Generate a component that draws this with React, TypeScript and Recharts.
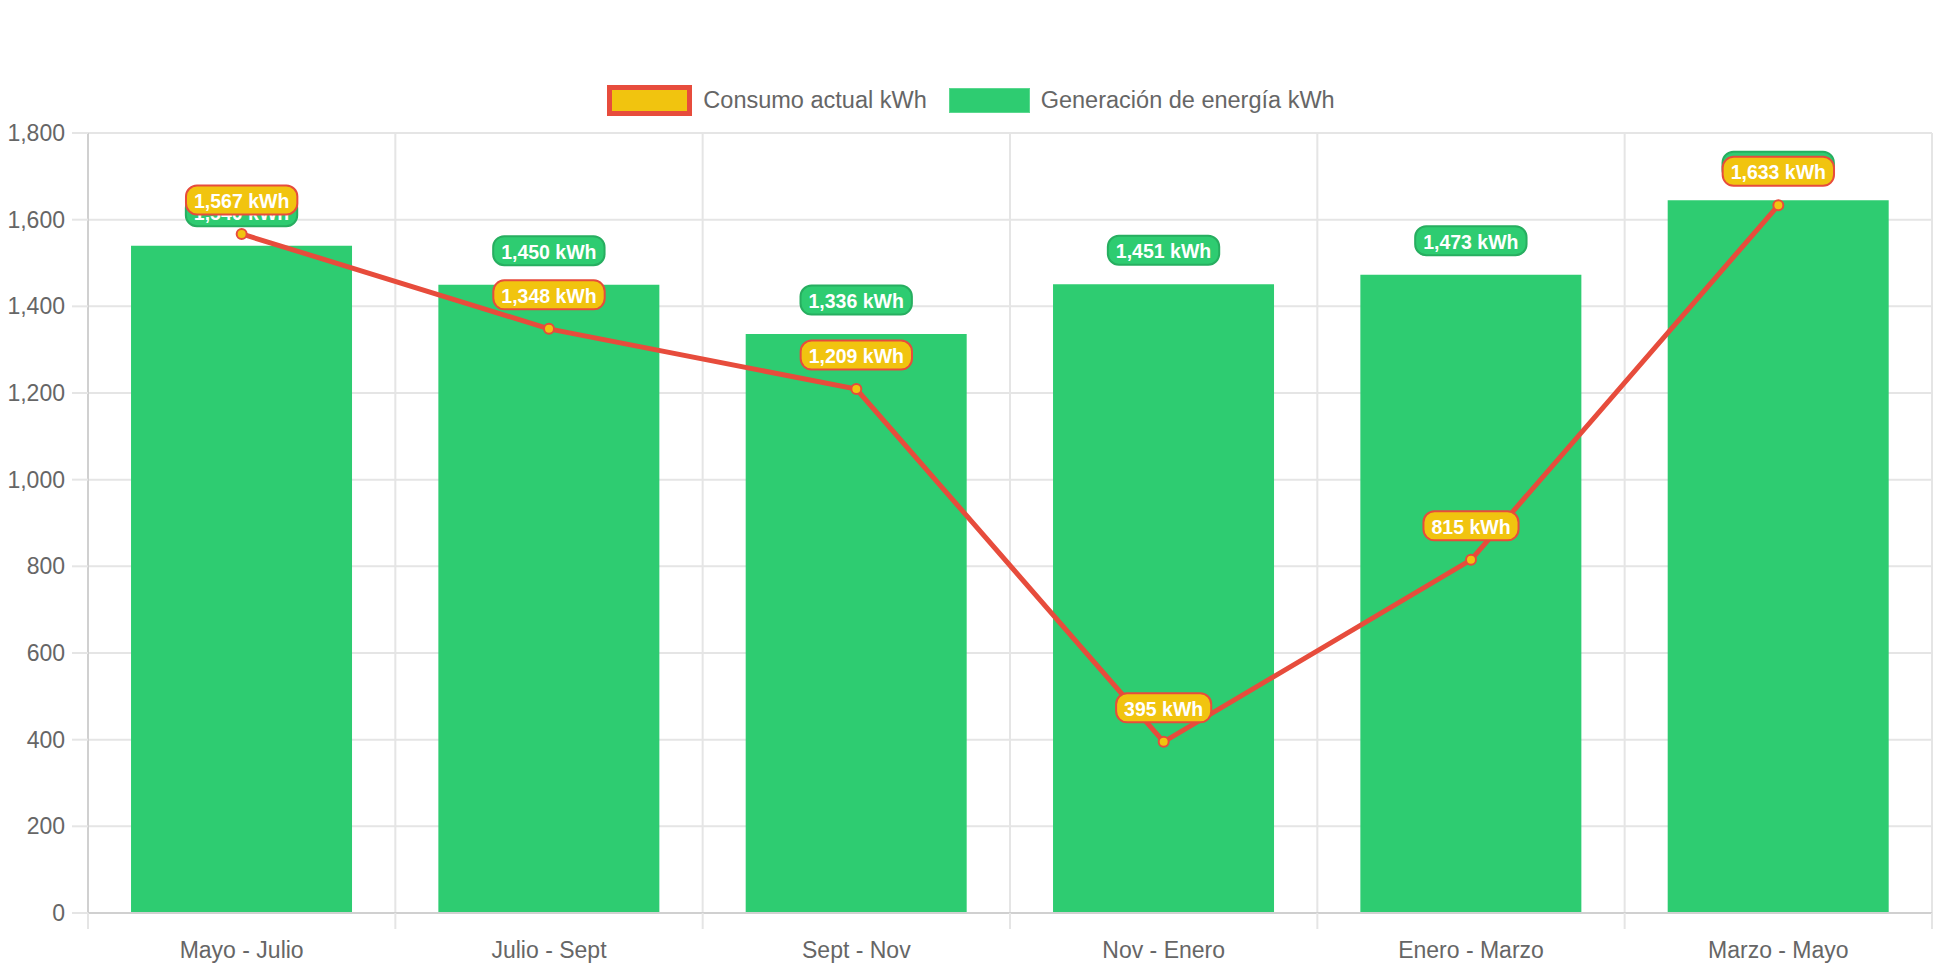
import React from "react";
import {
  ComposedChart,
  Bar,
  Line,
  XAxis,
  YAxis,
  CartesianGrid,
  LabelList,
} from "recharts";

const categories = [
  "Mayo - Julio",
  "Julio - Sept",
  "Sept - Nov",
  "Nov - Enero",
  "Enero - Marzo",
  "Marzo - Mayo",
];
const generacion = [1540, 1450, 1336, 1451, 1473, 1645];
const consumo = [1567, 1348, 1209, 395, 815, 1633];
const yTicks = [0, 200, 400, 600, 800, 1000, 1200, 1400, 1600, 1800];

const data = categories.map((name, i) => ({
  name,
  generacion: generacion[i],
  consumo: consumo[i],
}));

const W = 1942;
const H = 970;
const M = { top: 133, right: 10, bottom: 0, left: 0 };
const Y_W = 88;
const X_H = 57;
const PLOT_W = W - M.left - M.right - Y_W;
const PLOT_BOTTOM = H - M.bottom - X_H;
const CAT_W = PLOT_W / categories.length;

const FONT = "'Liberation Sans', Arial, Helvetica, sans-serif";
const GREEN = "#2ecc71";
const GREEN_DARK = "#27ae60";
const YELLOW = "#f1c40f";
const RED = "#e74c3c";
const GRID = "#e5e5e5";
const TEXT = "#666";

let ctx: CanvasRenderingContext2D | null = null;
function textWidth(s: string, font: string) {
  if (!ctx) ctx = document.createElement("canvas").getContext("2d");
  if (!ctx) return s.length * 10;
  ctx.font = font;
  return ctx.measureText(s).width;
}

const fmt = (v: number) => v.toLocaleString("en-US") + " kWh";

function Badge({ cx, cy, value, fill, stroke }: any) {
  const label = fmt(Number(value));
  const font = `bold 19.5px ${FONT}`;
  const tw = textWidth(label, font);
  const w = tw + 16;
  const h = 29;
  return (
    <g>
      <rect
        x={cx - w / 2}
        y={cy - h / 2}
        width={w}
        height={h}
        rx={11}
        ry={11}
        fill={fill}
        stroke={stroke}
        strokeWidth={2}
      />
      <text
        x={cx}
        y={cy + 1}
        textAnchor="middle"
        dominantBaseline="central"
        fill="#fff"
        style={{ font }}
      >
        {label}
      </text>
    </g>
  );
}

const BarBadge = (p: any) => (
  <Badge cx={p.x + p.width / 2} cy={p.y - 34} value={p.value} fill={GREEN} stroke={GREEN_DARK} />
);
const LineBadge = (p: any) => (
  <Badge cx={p.x} cy={p.y - 34} value={p.value} fill={YELLOW} stroke={RED} />
);

function XTick({ x, payload, index }: any) {
  const left = x - CAT_W / 2;
  return (
    <g>
      <line x1={left} x2={left} y1={PLOT_BOTTOM} y2={PLOT_BOTTOM + 16} stroke={GRID} strokeWidth={2} />
      {index === categories.length - 1 && (
        <line
          x1={x + CAT_W / 2}
          x2={x + CAT_W / 2}
          y1={PLOT_BOTTOM}
          y2={PLOT_BOTTOM + 16}
          stroke={GRID}
          strokeWidth={2}
        />
      )}
      <text
        x={x}
        y={PLOT_BOTTOM + 37}
        textAnchor="middle"
        dominantBaseline="central"
        fill={TEXT}
        style={{ fontFamily: FONT, fontSize: 23 }}
      >
        {payload.value}
      </text>
    </g>
  );
}

function LegendBar() {
  const item = { display: "flex", alignItems: "center" } as const;
  const txt = { color: TEXT, fontFamily: FONT, fontSize: 23.5, marginLeft: 11 };
  return (
    <div
      style={{
        position: "absolute",
        top: 85,
        left: 0,
        width: W,
        display: "flex",
        justifyContent: "center",
        pointerEvents: "none",
      }}
    >
      <div style={item}>
        <svg width={85} height={31}>
          <rect x={2.5} y={2.5} width={80} height={26} fill={YELLOW} stroke={RED} strokeWidth={5} />
        </svg>
        <span style={txt}>Consumo actual kWh</span>
      </div>
      <div style={{ ...item, marginLeft: 22 }}>
        <svg width={81} height={25}>
          <rect x={0.5} y={0.5} width={80} height={24} fill={GREEN} stroke="#5ad88f" strokeWidth={1} />
        </svg>
        <span style={txt}>Generación de energía kWh</span>
      </div>
    </div>
  );
}

export default function App() {
  return (
    <div style={{ position: "relative", width: W, height: H, background: "#fff" }}>
      <style>{"body{margin:0}"}</style>
      <LegendBar />
      <ComposedChart width={W} height={H} data={data} margin={M} barCategoryGap="14%">
        <CartesianGrid
          stroke={GRID}
          strokeWidth={2}
          verticalCoordinatesGenerator={({ offset }: any) =>
            Array.from(
              { length: categories.length + 1 },
              (_, i) => offset.left + (i * offset.width) / categories.length
            )
          }
        />
        <XAxis
          dataKey="name"
          height={X_H}
          tickLine={false}
          axisLine={{ stroke: "#d0d0d0", strokeWidth: 2 }}
          tick={<XTick />}
          interval={0}
        />
        <YAxis
          width={Y_W}
          domain={[0, 1800]}
          ticks={yTicks}
          interval={0}
          tickSize={16}
          tickMargin={7}
          tickLine={{ stroke: GRID, strokeWidth: 2 }}
          axisLine={{ stroke: "#d0d0d0", strokeWidth: 2 }}
          tickFormatter={(v: number) => v.toLocaleString("en-US")}
          tick={{ fill: TEXT, fontSize: 23, fontFamily: FONT }}
        />
        <Bar dataKey="generacion" fill={GREEN} isAnimationActive={false}>
          <LabelList dataKey="generacion" content={BarBadge} />
        </Bar>
        <Line
          dataKey="consumo"
          type="linear"
          stroke={RED}
          strokeWidth={5}
          dot={{ r: 5, fill: YELLOW, stroke: RED, strokeWidth: 2 }}
          isAnimationActive={false}
        >
          <LabelList dataKey="consumo" content={LineBadge} />
        </Line>
      </ComposedChart>
    </div>
  );
}
